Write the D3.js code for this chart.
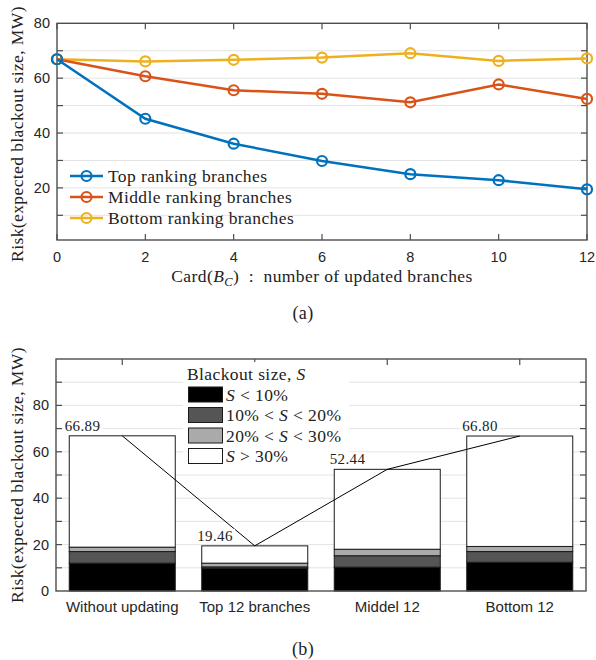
<!DOCTYPE html>
<meta charset="utf-8">
<html>
<head>
<style>
  body { margin: 0; background: #fff; }
  svg { display: block; }
  .serif { font-family: 'Liberation Serif', 'Times New Roman', serif; fill: #222; letter-spacing: 0.4px; }
  .sans { font-family: 'Liberation Sans', Arial, sans-serif; fill: #262626; }
  .grid line { stroke: #e3e3e3; stroke-width: 1; }
  .frame { fill: none; stroke: #4d4d4d; stroke-width: 1.4; }
  .tick { stroke: #4d4d4d; stroke-width: 1.2; }
</style>
</head>
<body>
<svg width="596" height="660"></svg>
<script src="https://cdn.jsdelivr.net/npm/d3@7"></script>
<script>

// ---- (a) risk vs number of updated branches
var cardBC = [0, 2, 4, 6, 8, 10, 12];
var topRanking = [66.89, 45.2, 36.1, 29.8, 25.0, 22.8, 19.46];
var middleRanking = [66.89, 60.7, 55.6, 54.3, 51.2, 57.7, 52.44];
var bottomRanking = [66.89, 66.1, 66.7, 67.5, 69.1, 66.3, 67.2];
var seriesNames = ["Top ranking branches", "Middle ranking branches", "Bottom ranking branches"];
var seriesColors = ["#0072BD", "#D95319", "#EDB120"];

// ---- (b) stacked risk by blackout size
var cases = ["Without updating", "Top 12 branches", "Middel 12", "Bottom 12"];
var sizeLt10 = [12.0, 9.8, 10.3, 12.4];
var size10to20 = [5.0, 0.6, 4.9, 4.6];
var size20to30 = [1.9, 1.6, 2.8, 2.2];
var sizeGt30 = [47.99, 7.46, 34.44, 47.6];
var totalRisk = [66.89, 19.46, 52.44, 66.80];
var sizeColors = ["#000000", "#555555", "#aaaaaa", "#ffffff"];

var svg = d3.select("svg");

// ================= chart (a) =================
var xa = d3.scaleLinear().domain([0, 12]).range([57, 587]);
var ya = d3.scaleLinear().domain([1, 80]).range([240, 23.3]);

var ga = svg.append("g");

ga.append("g").attr("class", "grid")
  .selectAll("line").data(d3.range(10, 80, 10))
  .enter().append("line")
    .attr("x1", xa(0)).attr("x2", xa(12))
    .attr("y1", function(d) { return ya(d); })
    .attr("y2", function(d) { return ya(d); });

// ticks, all inward (matlab style)
var yTicksA = d3.range(10, 80, 10);
ga.selectAll(".ytl").data(yTicksA).enter().append("line").attr("class", "tick")
  .attr("x1", xa(0)).attr("x2", xa(0) + 6)
  .attr("y1", function(d) { return ya(d); }).attr("y2", function(d) { return ya(d); });
ga.selectAll(".ytr").data(yTicksA).enter().append("line").attr("class", "tick")
  .attr("x1", xa(12)).attr("x2", xa(12) - 6)
  .attr("y1", function(d) { return ya(d); }).attr("y2", function(d) { return ya(d); });
ga.selectAll(".xtb").data(cardBC).enter().append("line").attr("class", "tick")
  .attr("x1", function(d) { return xa(d); }).attr("x2", function(d) { return xa(d); })
  .attr("y1", ya(1)).attr("y2", ya(1) - 6);
ga.selectAll(".xtt").data(cardBC).enter().append("line").attr("class", "tick")
  .attr("x1", function(d) { return xa(d); }).attr("x2", function(d) { return xa(d); })
  .attr("y1", ya(80)).attr("y2", ya(80) + 6);

ga.selectAll(".ylab").data([20, 40, 60, 80]).enter().append("text")
  .attr("class", "sans")
  .attr("x", xa(0) - 7)
  .attr("y", function(d) { return ya(d); })
  .attr("dy", "0.35em")
  .attr("text-anchor", "end")
  .style("font-size", "14.5px")
  .text(function(d) { return d; });

ga.selectAll(".xlab").data(cardBC).enter().append("text")
  .attr("class", "sans")
  .attr("x", function(d) { return xa(d); })
  .attr("y", 262)
  .attr("text-anchor", "middle")
  .style("font-size", "14.5px")
  .text(function(d) { return d; });

ga.append("rect").attr("class", "frame")
  .attr("x", xa(0)).attr("y", ya(80))
  .attr("width", xa(12) - xa(0)).attr("height", ya(1) - ya(80));

var seriesA = [topRanking, middleRanking, bottomRanking];
var line = d3.line()
  .x(function(d, i) { return xa(cardBC[i]); })
  .y(function(d) { return ya(d); });

// draw bottom first so the blue line ends on top like the original
[2, 1, 0].forEach(function(k) {
  ga.append("path")
    .attr("d", line(seriesA[k]))
    .attr("fill", "none")
    .attr("stroke", seriesColors[k])
    .attr("stroke-width", 2.5);
  ga.selectAll(".m" + k).data(seriesA[k]).enter().append("circle")
    .attr("cx", function(d, i) { return xa(cardBC[i]); })
    .attr("cy", function(d) { return ya(d); })
    .attr("r", 5)
    .attr("fill", "none")
    .attr("stroke", seriesColors[k])
    .attr("stroke-width", 2.2);
});

var legA = ga.append("g");
seriesNames.forEach(function(name, k) {
  var y = 176 + k * 21;
  legA.append("line").attr("x1", 70).attr("x2", 103).attr("y1", y).attr("y2", y)
    .attr("stroke", seriesColors[k]).attr("stroke-width", 2.5);
  legA.append("circle").attr("cx", 86.5).attr("cy", y).attr("r", 5)
    .attr("fill", "none").attr("stroke", seriesColors[k]).attr("stroke-width", 2.2);
  legA.append("text").attr("class", "serif")
    .attr("x", 108).attr("y", y).attr("dy", "0.33em")
    .style("font-size", "17.5px")
    .text(name);
});

var xTitle = ga.append("text").attr("class", "serif")
  .attr("x", 322).attr("y", 282)
  .attr("text-anchor", "middle")
  .style("font-size", "17.5px")
  .style("white-space", "pre");
xTitle.append("tspan").text("Card(");
xTitle.append("tspan").style("font-style", "italic").text("B");
xTitle.append("tspan").attr("dy", 4).style("font-size", "12.5px").style("font-style", "italic").text("C");
xTitle.append("tspan").attr("dy", -4).text(")  :  number of updated branches");

ga.append("text").attr("class", "serif")
  .attr("transform", "translate(23,134) rotate(-90)")
  .attr("text-anchor", "middle")
  .style("font-size", "17.5px")
  .text("Risk(expected blackout size, MW)");

svg.append("text").attr("class", "serif")
  .attr("x", 303).attr("y", 319)
  .attr("text-anchor", "middle")
  .style("font-size", "18px")
  .text("(a)");

// ================= chart (b) =================
var xb = d3.scaleLinear().domain([0.5, 4.5]).range([56, 586]);
var yb = d3.scaleLinear().domain([0, 100]).range([591, 359]);
var barW = 0.8;

var gb = svg.append("g");

gb.append("g").attr("class", "grid")
  .selectAll("line").data(d3.range(10, 100, 10))
  .enter().append("line")
    .attr("x1", xb(0.5)).attr("x2", xb(4.5))
    .attr("y1", function(d) { return yb(d); })
    .attr("y2", function(d) { return yb(d); });

var yTicksB = d3.range(10, 100, 10);
gb.selectAll(".ytl").data(yTicksB).enter().append("line").attr("class", "tick")
  .attr("x1", xb(0.5)).attr("x2", xb(0.5) + 6)
  .attr("y1", function(d) { return yb(d); }).attr("y2", function(d) { return yb(d); });
gb.selectAll(".ytr").data(yTicksB).enter().append("line").attr("class", "tick")
  .attr("x1", xb(4.5)).attr("x2", xb(4.5) - 6)
  .attr("y1", function(d) { return yb(d); }).attr("y2", function(d) { return yb(d); });
gb.selectAll(".xtt").data(cases).enter().append("line").attr("class", "tick")
  .attr("x1", function(d, i) { return xb(i + 1); }).attr("x2", function(d, i) { return xb(i + 1); })
  .attr("y1", yb(100)).attr("y2", yb(100) + 6);

gb.selectAll(".ylab").data([0, 20, 40, 60, 80]).enter().append("text")
  .attr("class", "sans")
  .attr("x", xb(0.5) - 7)
  .attr("y", function(d) { return yb(d); })
  .attr("dy", "0.35em")
  .attr("text-anchor", "end")
  .style("font-size", "14.5px")
  .text(function(d) { return d; });

gb.selectAll(".clab").data(cases).enter().append("text")
  .attr("class", "sans")
  .attr("x", function(d, i) { return xb(i + 1); })
  .attr("y", 612)
  .attr("text-anchor", "middle")
  .style("font-size", "15px")
  .text(function(d) { return d; });

// stacked bars
var rows = cases.map(function(c, i) {
  return { name: c, a: sizeLt10[i], b: size10to20[i], c: size20to30[i], d: sizeGt30[i] };
});
var stack = d3.stack().keys(["a", "b", "c", "d"])(rows);

stack.forEach(function(layer, k) {
  gb.selectAll(".bar" + k).data(layer).enter().append("rect")
    .attr("x", function(d, i) { return xb(i + 1 - barW / 2); })
    .attr("width", xb(1 + barW) - xb(1))
    .attr("y", function(d) { return yb(d[1]); })
    .attr("height", function(d) { return yb(d[0]) - yb(d[1]); })
    .attr("fill", sizeColors[k])
    .attr("stroke", "#1a1a1a")
    .attr("stroke-width", 1);
});

gb.append("rect").attr("class", "frame")
  .attr("x", xb(0.5)).attr("y", yb(100))
  .attr("width", xb(4.5) - xb(0.5)).attr("height", yb(0) - yb(100));

// legend (drawn before the line and value labels)
var legB = gb.append("g");
legB.append("rect").attr("x", 183).attr("y", 362).attr("width", 166).attr("height", 104).attr("fill", "#fff");
var legTitle = legB.append("text").attr("class", "serif")
  .attr("x", 187).attr("y", 380).style("font-size", "17.5px");
legTitle.append("tspan").text("Blackout size, ");
legTitle.append("tspan").style("font-style", "italic").text("S");

var legLabels = [
  [["S", true], [" < 10%", false]],
  [["10% < ", false], ["S", true], [" < 20%", false]],
  [["20% < ", false], ["S", true], [" < 30%", false]],
  [["S", true], [" > 30%", false]]
];
legLabels.forEach(function(parts, k) {
  var y = 387 + k * 20.5;
  legB.append("rect").attr("x", 188.5).attr("y", y).attr("width", 34).attr("height", 15)
    .attr("fill", sizeColors[k]).attr("stroke", "#1a1a1a").attr("stroke-width", 1);
  var t = legB.append("text").attr("class", "serif")
    .attr("x", 226).attr("y", y + 7.5).attr("dy", "0.35em")
    .style("font-size", "17.5px")
    .style("white-space", "pre");
  parts.forEach(function(p) {
    t.append("tspan").style("font-style", p[1] ? "italic" : "normal").text(p[0]);
  });
});

// connecting line over bar tops
gb.append("path")
  .attr("d", d3.line()
    .x(function(d, i) { return xb(i + 1); })
    .y(function(d) { return yb(d); })(totalRisk))
  .attr("fill", "none")
  .attr("stroke", "#000")
  .attr("stroke-width", 1);

// value labels, white box behind like matlab text background
var vlab = gb.selectAll(".vlab").data(totalRisk).enter().append("g").attr("class", "vlab");
vlab.append("text").attr("class", "serif")
  .attr("x", function(d, i) { return xb(i + 1 - 0.3); })
  .attr("y", function(d) { return yb(d) - 5; })
  .attr("text-anchor", "middle")
  .style("font-size", "15px")
  .text(function(d) { return d.toFixed(2); });
vlab.each(function() {
  var t = d3.select(this).select("text");
  var bb = t.node().getBBox();
  d3.select(this).insert("rect", "text")
    .attr("x", bb.x - 2).attr("y", bb.y + 1)
    .attr("width", bb.width + 4).attr("height", bb.height - 2)
    .attr("fill", "#fff");
});

gb.append("text").attr("class", "serif")
  .attr("transform", "translate(23,475) rotate(-90)")
  .attr("text-anchor", "middle")
  .style("font-size", "17.5px")
  .text("Risk(expected blackout size, MW)");

svg.append("text").attr("class", "serif")
  .attr("x", 303).attr("y", 655)
  .attr("text-anchor", "middle")
  .style("font-size", "18px")
  .text("(b)");

</script>
</body>
</html>
